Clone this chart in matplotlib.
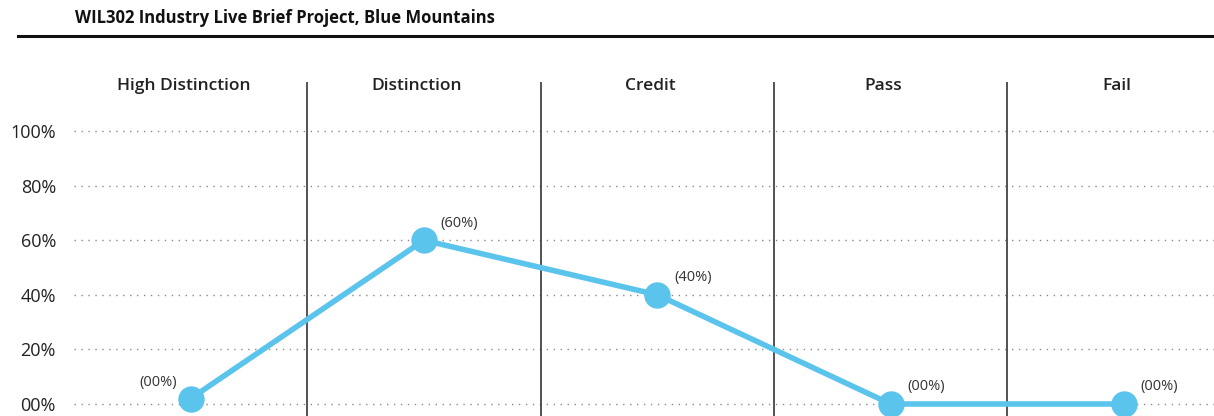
import matplotlib.pyplot as plt
from matplotlib.lines import Line2D

plt.rcParams['font.family'] = ['Open Sans', 'DejaVu Sans']

title = "WIL302 Industry Live Brief Project, Blue Mountains"
grades = ["High Distinction", "Distinction", "Credit", "Pass", "Fail"]
percent = [2, 60, 40, 0, 0]
point_labels = ["(00%)", "(60%)", "(40%)", "(00%)", "(00%)"]
y_ticks = [0, 20, 40, 60, 80, 100]
y_tick_labels = ["00%", "20%", "40%", "60%", "80%", "100%"]

line_color = "#5bc4ec"

fig = plt.figure(figsize=(12.14, 4.16), dpi=100)
ax = fig.add_axes([74 / 1214, 0, 1 - 74 / 1214, (416 - 82) / 416])
ax.set_xlim(-0.5, 4.386)
ax.set_ylim(-4.4, 118)

for v in y_ticks:
    ax.axhline(v, color="#8a8a8a", lw=1, ls=(0, (1, 4)), zorder=1)
for i in range(len(grades) - 1):
    ax.axvline(i + 0.5, color="#444444", lw=1.3, zorder=2)

x = list(range(len(grades)))
ax.plot(x, percent, color=line_color, lw=4, marker="o", ms=18,
        clip_on=False, zorder=3)

for i, (v, lab) in enumerate(zip(percent, point_labels)):
    if i == 0:
        ax.annotate(lab, (i, v), xytext=(-10, 6), textcoords="offset points",
                    ha="right", va="bottom", fontsize=10.5, color="#333333")
    else:
        ax.annotate(lab, (i, v), xytext=(12, 7), textcoords="offset points",
                    ha="left", va="bottom", fontsize=10.5, color="#333333")

for i, g in enumerate(grades):
    ax.text(i - 0.03, 116.5, g, ha="center", va="center", fontsize=12.5,
            fontweight="semibold", color="#222222")

ax.set_yticks(y_ticks)
ax.set_yticklabels(y_tick_labels, fontsize=13, color="#222222")
ax.set_xticks([])
ax.tick_params(axis="y", length=0, pad=13)
for s in ax.spines.values():
    s.set_visible(False)

fig.text(75 / 1214, 1 - 18 / 416, title, ha="left", va="center",
         fontsize=12, fontweight="bold", color="#111111")
fig.add_artist(Line2D([18 / 1214, 1], [1 - 36 / 416, 1 - 36 / 416],
                      color="#111111", lw=2.2))

fig.savefig("out.png", dpi=100)
